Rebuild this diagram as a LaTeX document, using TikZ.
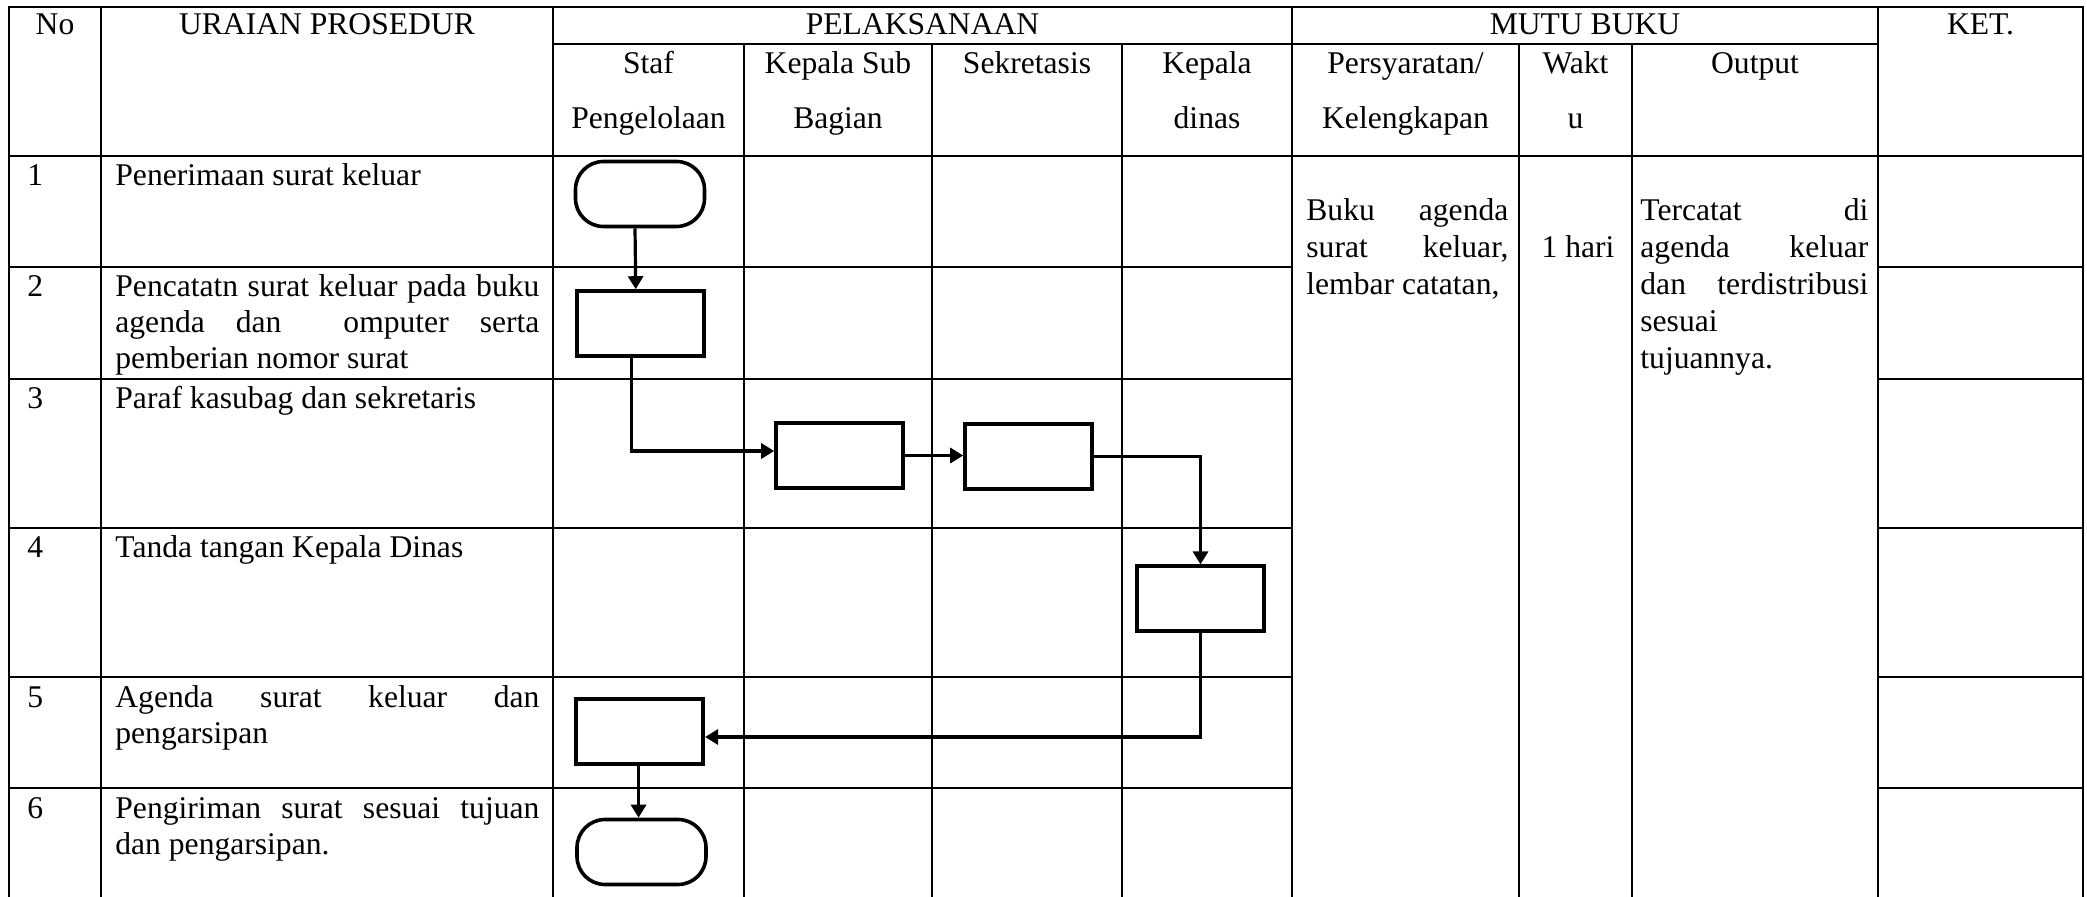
\documentclass[tikz,border=0pt]{standalone}
\usepackage{fontspec}
\setmainfont{Liberation Serif}
\usetikzlibrary{arrows.meta}
\begin{document}
\begin{tikzpicture}[x=0.5pt,y=-0.5pt,
  every node/.style={inner sep=0pt, font=\fontsize{15.8pt}{18pt}\selectfont},
  tbl/.style={line width=1pt, line cap=rect},
  proc/.style={draw, line width=1.8pt, minimum width=63.5pt, minimum height=32.5pt},
  term/.style={proc, rounded corners=14pt, minimum width=64.5pt},
  flow/.style={line width=1.6pt, -{Triangle[length=6.5pt,width=7.5pt]}},
  txt/.style={anchor=base west},
  ctr/.style={anchor=base}]
\useasboundingbox (0,0) rectangle (2087,897);
% table grid
\draw[tbl] (9,7) -- (2083,7);
\draw[tbl] (553,44) -- (1878,44);
\draw[tbl] (9,156) -- (2083,156);
\foreach \y in {267,379,528,677,788} {
  \draw[tbl] (9,\y) -- (1292,\y);
  \draw[tbl] (1878,\y) -- (2083,\y);
}
\foreach \x in {9,101,553,1292,1878,2083} \draw[tbl] (\x,7) -- (\x,897);
\foreach \x in {744,932,1122,1519,1632} \draw[tbl] (\x,44) -- (\x,897);
% headers
\node[ctr] (hNo) at (55,35) {No};
\node[ctr] (hUr) at (327,35) {URAIAN PROSEDUR};
\node[ctr] (hPel) at (922.5,35) {PELAKSANAAN};
\node[ctr] (hMutu) at (1585,35) {MUTU BUKU};
\node[ctr] (hKet) at (1980.5,35) {KET.};
\node[ctr] (hS1) at (648.5,74) {Staf};
\node[ctr] (hS2) at (648.5,129) {Pengelolaan};
\node[ctr] (hK1) at (838,74) {Kepala Sub};
\node[ctr] (hK2) at (838,129) {Bagian};
\node[ctr] (hSek) at (1027,74) {Sekretasis};
\node[ctr] (hD1) at (1207,74) {Kepala};
\node[ctr] (hD2) at (1207,129) {dinas};
\node[ctr] (hP1) at (1405.5,74) {Persyaratan/};
\node[ctr] (hP2) at (1405.5,129) {Kelengkapan};
\node[ctr] (hW1) at (1575.5,74) {Wakt};
\node[ctr] (hW2) at (1575.5,129) {u};
\node[ctr] (hOut) at (1755,74) {Output};
% row numbers
\node[txt] (n1) at (27,186) {1};
\node[txt] (n2) at (27,297) {2};
\node[txt] (n3) at (27,409) {3};
\node[txt] (n4) at (27,558) {4};
\node[txt] (n5) at (27,707) {5};
\node[txt] (n6) at (27,818) {6};
% procedure texts
\node[txt] (u1) at (115,186) {Penerimaan surat keluar};
\node[txt] (u2a) at (115,297) {\makebox[212pt][s]{Pencatatn surat keluar pada buku}};
\node[txt] (u2b) at (115,333) {\makebox[212pt][s]{agenda dan\ \ omputer serta}};
\node[txt] (u2c) at (115,369) {pemberian nomor surat};
\node[txt] (u3) at (115,409) {Paraf kasubag dan sekretaris};
\node[txt] (u4) at (115,558) {Tanda tangan Kepala Dinas};
\node[txt] (u5a) at (115,707) {\makebox[212pt][s]{Agenda surat keluar dan}};
\node[txt] (u5b) at (115,743) {pengarsipan};
\node[txt] (u6a) at (115,818) {\makebox[212pt][s]{Pengiriman surat sesuai tujuan}};
\node[txt] (u6b) at (115,854) {dan pengarsipan.};
% mutu buku texts
\node[txt] (p1) at (1306,221) {\makebox[101pt][s]{Buku agenda}};
\node[txt] (p2) at (1306,258) {\makebox[101pt][s]{surat keluar,}};
\node[txt] (p3) at (1306,295) {lembar catatan,};
\node[ctr] (w1) at (1578,258) {1 hari};
\node[txt] (o1) at (1640,221) {\makebox[114pt][s]{Tercatat di}};
\node[txt] (o2) at (1640,258) {\makebox[114pt][s]{agenda keluar}};
\node[txt] (o3) at (1640,295) {\makebox[114pt][s]{dan terdistribusi}};
\node[txt] (o4) at (1640,332) {sesuai};
\node[txt] (o5) at (1640,369) {tujuannya.};
% flow shapes
\node[term] (t1) at (640,194) {};
\node[proc] (r2) at (640.75,323.5) {};
\node[proc] (r3) at (839.5,455.5) {};
\node[proc] (r4) at (1028.5,456.5) {};
\node[proc] (r5) at (1200.5,598.75) {};
\node[proc] (r6) at (639.75,731.5) {};
\node[term] (t2) at (641.5,852) {};
% connectors
\draw[flow] ([xshift=-2.5pt]t1.south) -- ([xshift=-2.5pt]r2.north);
\draw[flow] ([xshift=-4.5pt]r2.south) |- ([yshift=2.25pt]r3.west);
\draw[flow] (r3.east) -- (r3.east -| r4.west);
\draw[flow] (r4.east) -| (r5.north);
\draw[flow] (r5.south) |- ([yshift=-2.75pt]r6.east);
\draw[flow] ([xshift=-0.6pt]r6.south) -- ([xshift=-0.6pt]r6.south |- t2.north);
\end{tikzpicture}
\end{document}
